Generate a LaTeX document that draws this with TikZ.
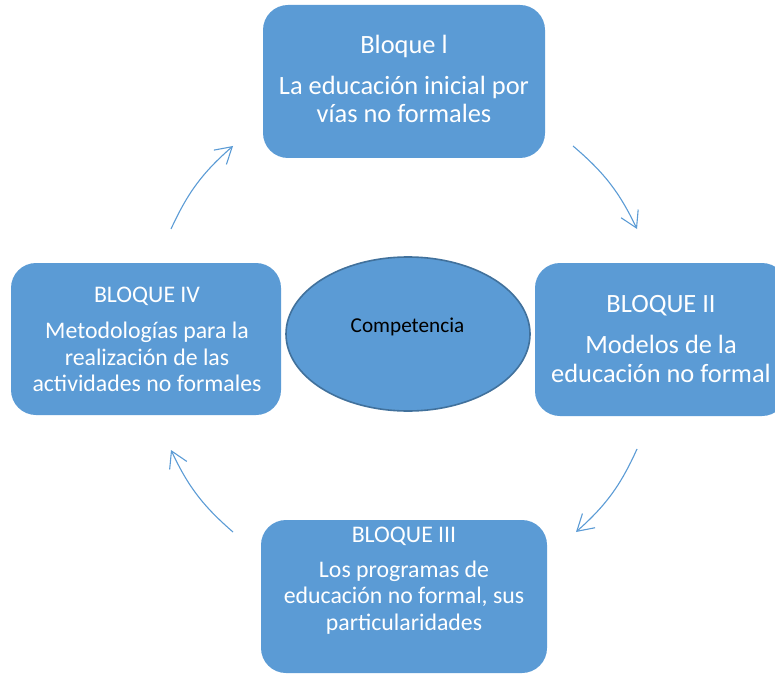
\documentclass[tikz,border=0pt]{standalone}
\usepackage{fontspec}
\setmainfont{Carlito}
\usetikzlibrary{arrows.meta,shapes.geometric}
\definecolor{boxblue}{HTML}{5B9BD5}
\definecolor{edgeblue}{HTML}{41719C}
\begin{document}
\begin{tikzpicture}[x=1pt,y=-1pt,
  block/.style={fill=boxblue, draw=none, rounded corners=25pt, inner sep=0pt},
  lblbig/.style={text=white, anchor=base, inner sep=0pt, font=\fontsize{26.4}{30}\selectfont},
  lblsmall/.style={text=white, anchor=base, inner sep=0pt, font=\fontsize{23.8}{28}\selectfont},
  flow/.style={draw=boxblue, line width=1.1pt, -{Straight Barb[length=16pt,width=19pt]}, bend left=12}]
\useasboundingbox (0,0) rectangle (775,676);
\clip (0,0) rectangle (775,676);
% boxes
\node[block, minimum width=282pt, minimum height=153pt] (b1) at (404,81.5) {};
\node[block, minimum width=252pt, minimum height=153pt] (b2) at (661,339.5) {};
\node[block, minimum width=286pt, minimum height=153pt] (b3) at (404,596.5) {};
\node[block, minimum width=270pt, minimum height=152pt] (b4) at (146,339) {};
% center ellipse
\node[ellipse, fill=boxblue, draw=edgeblue, line width=1.6pt, minimum width=244pt, minimum height=154pt, inner sep=0pt] (c) at (408,334) {};
\node[anchor=base, inner sep=0pt, font=\fontsize{21.2}{25}\selectfont] (ct) at (407.5,332) {Competencia};
% top texts
\node[lblbig] (t1a) at (404,54) {Bloque l};
\node[lblbig] (t1b) at (404,95) {La educación inicial por};
\node[lblbig] (t1c) at (404,123) {vías no formales};
% right texts
\node[lblbig] (t2a) at (661,312) {BLOQUE II};
\node[lblbig] (t2b) at (661,353) {Modelos de la};
\node[lblbig] (t2c) at (661,382) {educación no formal};
% bottom texts
\node[lblsmall] (t3a) at (404,542) {BLOQUE III};
\node[lblsmall] (t3b) at (404,577) {Los programas de};
\node[lblsmall] (t3c) at (404,603) {educación no formal, sus};
\node[lblsmall] (t3d) at (404,630) {particularidades};
% left texts
\node[lblsmall] (t4a) at (147,302) {BLOQUE IV};
\node[lblsmall] (t4b) at (147,338) {Metodologías para la};
\node[lblsmall] (t4c) at (147,365) {realización de las};
\node[lblsmall] (t4d) at (147,391) {actividades no formales};
% arrows
\coordinate (a1s) at (573,146); \coordinate (a1e) at (637,229);
\coordinate (a2s) at (637,449); \coordinate (a2e) at (576,532);
\coordinate (a3s) at (233,532); \coordinate (a3e) at (171,450);
\coordinate (a4s) at (171,229); \coordinate (a4e) at (233,146);
\draw[flow] (a1s) to (a1e);
\draw[flow] (a2s) to (a2e);
\draw[flow] (a3s) to (a3e);
\draw[flow] (a4s) to (a4e);
\end{tikzpicture}
\end{document}
